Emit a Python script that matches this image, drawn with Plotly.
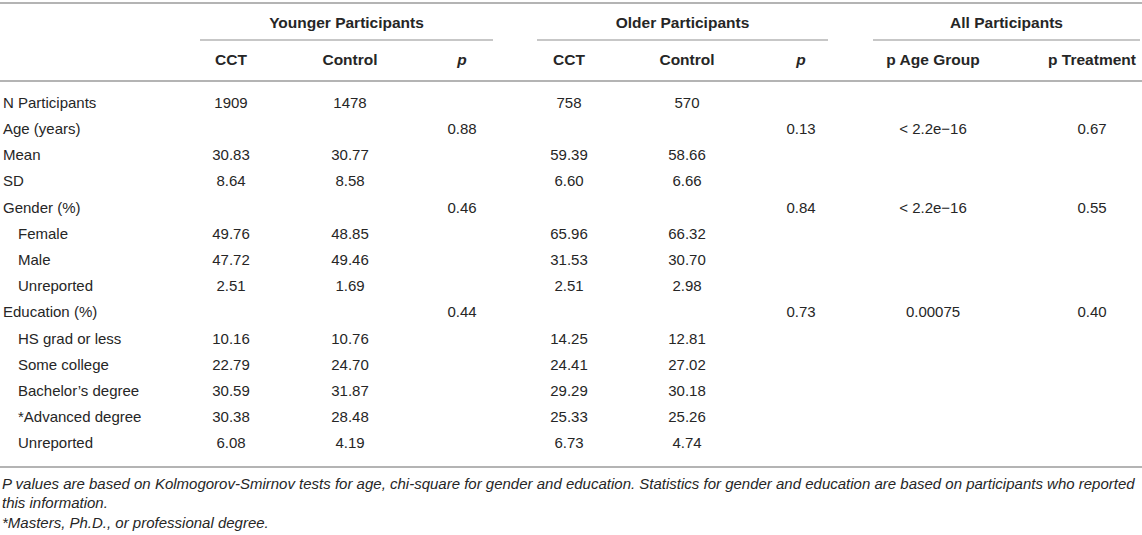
import plotly.graph_objects as go

# table content
row_labels = ["N Participants", "Age (years)", "Mean", "SD", "Gender (%)", "Female", "Male",
              "Unreported", "Education (%)", "HS grad or less", "Some college",
              "Bachelor’s degree", "*Advanced degree", "Unreported"]
indented = [False, False, False, False, False, True, True, True, False, True, True, True, True, True]

young_cct = ["1909", "", "30.83", "8.64", "", "49.76", "47.72", "2.51", "", "10.16", "22.79", "30.59", "30.38", "6.08"]
young_ctrl = ["1478", "", "30.77", "8.58", "", "48.85", "49.46", "1.69", "", "10.76", "24.70", "31.87", "28.48", "4.19"]
young_p = ["", "0.88", "", "", "0.46", "", "", "", "0.44", "", "", "", "", ""]
old_cct = ["758", "", "59.39", "6.60", "", "65.96", "31.53", "2.51", "", "14.25", "24.41", "29.29", "25.33", "6.73"]
old_ctrl = ["570", "", "58.66", "6.66", "", "66.32", "30.70", "2.98", "", "12.81", "27.02", "30.18", "25.26", "4.74"]
old_p = ["", "0.13", "", "", "0.84", "", "", "", "0.73", "", "", "", "", ""]
p_age = ["", "< 2.2e−16", "", "", "< 2.2e−16", "", "", "", "0.00075", "", "", "", "", ""]
p_treat = ["", "0.67", "", "", "0.55", "", "", "", "0.40", "", "", "", "", ""]

groups = ["Younger Participants", "Older Participants", "All Participants"]
sub_headers = ["CCT", "Control", "<i>p</i>", "CCT", "Control", "<i>p</i>", "p Age Group", "p Treatment"]

footnotes = [
    "P values are based on Kolmogorov-Smirnov tests for age, chi-square for gender and education. "
    "Statistics for gender and education are based on participants who reported",
    "this information.",
    "*Masters, Ph.D., or professional degree.",
]

# layout (pixels)
W, H = 1142, 535
col_x = [231, 350, 462, 569, 687, 801, 933, 1092]
group_spans = [(200, 493), (537, 828), (873, 1140)]
row_y0, row_step = 104, 26.2
row_y = [row_y0 + i * row_step for i in range(len(row_labels))]
bottom_line_y = 467
foot_y = [485, 504.5, 524]

FONT = "Liberation Sans, Arial, Helvetica, sans-serif"
TXT = "#262626"
LINE = "#b4b4b4"

fig = go.Figure()

# row labels
fig.add_trace(go.Scatter(
    x=[18 if ind else 3 for ind in indented], y=row_y, text=row_labels,
    mode="text", textposition="middle right", cliponaxis=False,
    textfont=dict(family=FONT, size=15, color=TXT), hoverinfo="skip"))

# value columns
for cx, col in zip(col_x, [young_cct, young_ctrl, young_p, old_cct, old_ctrl, old_p, p_age, p_treat]):
    fig.add_trace(go.Scatter(
        x=[cx] * len(col), y=row_y, text=col, mode="text", textposition="middle center",
        cliponaxis=False, textfont=dict(family=FONT, size=15, color=TXT), hoverinfo="skip"))

# sub headers
fig.add_trace(go.Scatter(
    x=col_x, y=[61] * len(col_x), text=["<b>%s</b>" % s for s in sub_headers],
    mode="text", textposition="middle center", cliponaxis=False,
    textfont=dict(family=FONT, size=15.5, color=TXT), hoverinfo="skip"))

# group headers
fig.add_trace(go.Scatter(
    x=[(a + b) / 2 for a, b in group_spans], y=[24] * 3, text=["<b>%s</b>" % g for g in groups],
    mode="text", textposition="middle center", cliponaxis=False,
    textfont=dict(family=FONT, size=15.5, color=TXT), hoverinfo="skip"))

# footnotes
fig.add_trace(go.Scatter(
    x=[2] * len(footnotes), y=foot_y, text=["<i>%s</i>" % f for f in footnotes],
    mode="text", textposition="middle right", cliponaxis=False,
    textfont=dict(family=FONT, size=15, color=TXT), hoverinfo="skip"))

# rules
shapes = [
    dict(type="line", x0=0, x1=W, y0=3, y1=3, line=dict(color=LINE, width=2)),
    dict(type="line", x0=0, x1=W, y0=81, y1=81, line=dict(color=LINE, width=2)),
    dict(type="line", x0=0, x1=W, y0=bottom_line_y, y1=bottom_line_y, line=dict(color=LINE, width=2)),
]
for a, b in group_spans:
    shapes.append(dict(type="line", x0=a, x1=b, y0=40, y1=40, line=dict(color=LINE, width=1.3)))
for s in shapes:
    s.update(xref="x", yref="y", layer="below")

fig.update_layout(
    width=W, height=H, margin=dict(l=0, r=0, t=0, b=0),
    paper_bgcolor="white", plot_bgcolor="white", showlegend=False,
    xaxis=dict(range=[0, W], visible=False, fixedrange=True),
    yaxis=dict(range=[H, 0], visible=False, fixedrange=True),
    shapes=shapes,
)

fig.write_html("out.html", config={"displayModeBar": False},
               post_script="document.body.style.margin='0';")
